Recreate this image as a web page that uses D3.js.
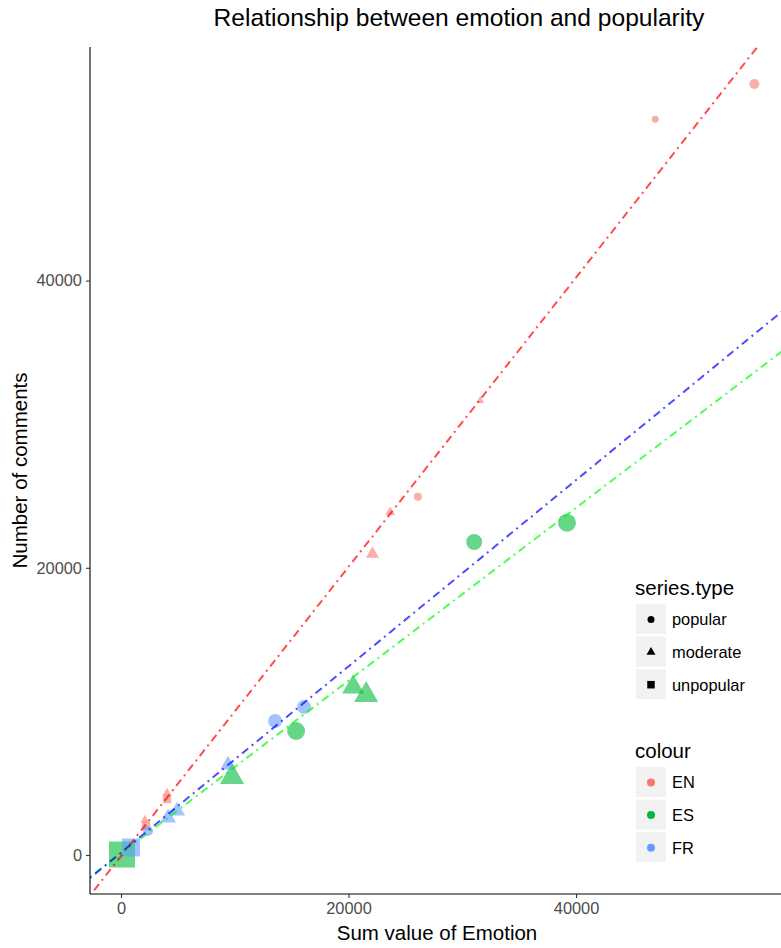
<!DOCTYPE html>
<html>
<head>
<meta charset="utf-8">
<script src="https://cdn.jsdelivr.net/npm/d3@7"></script>
<style>
  html, body { margin: 0; padding: 0; background: #fff; }
  svg { display: block; font-family: "Liberation Sans", Arial, Helvetica, sans-serif; }
</style>
</head>
<body>
<svg id="chart" width="781" height="948"></svg>
<script>
// Languages (colour) and popularity classes (shape)
const languages = ["EN", "ES", "FR"];
const seriesTypes = ["popular", "moderate", "unpopular"];

// EN observations
const emotionEN  = [55673, 46966, 26095, 31574, 23659, 22102, 4046, 2111, 4046, 2199];
const commentsEN = [53691, 51233, 24951, 31637, 23865, 20961, 4318, 2437, 3900, 2020];
const typeEN     = ["popular", "popular", "popular", "moderate", "moderate", "moderate", "moderate", "moderate", "unpopular", "unpopular"];
const sizeEN     = [3.5, 2.2, 2.6, 2.6, 3.4, 4.7, 3.0, 3.0, 2.8, 2.8];

// ES observations
const emotionES  = [39200, 31046, 15391, 20405, 21548, 9763, 88];
const commentsES = [23140, 21797, 8635, 11699, 11142, 5432, 35];
const typeES     = ["popular", "popular", "popular", "moderate", "moderate", "moderate", "unpopular"];
const sizeES     = [6.7, 5.9, 6.7, 8.4, 9.2, 9.2, 10];

// FR observations
const emotionFR  = [16095, 13544, 2375, 9411, 4925, 4134, 880];
const commentsFR = [10306, 9331, 1671, 6267, 3064, 2577, 522];
const typeFR     = ["popular", "popular", "popular", "moderate", "moderate", "moderate", "unpopular"];
const sizeFR     = [5.1, 5.1, 3.5, 5.9, 5.9, 5.9, 6.7];

// Linear fits of comments on emotion, per language
const fitSlope     = [1.0073, 0.6018, 0.6486];
const fitIntercept = [-78, 108, 166];

// Axis ticks
const xTicks = [0, 20000, 40000];
const yTicks = [0, 20000, 40000];

const pointColours = { EN: "#F8766D", ES: "#00BA38", FR: "#619CFF" };
const lineColours  = { EN: "#FF0000", ES: "#00FF00", FR: "#0000FF" };

const svg = d3.select("#chart");
const panel = { left: 90, top: 47, right: 786, bottom: 894 };

const x = d3.scaleLinear().domain([-2726, 58454]).range([panel.left, panel.right]);
const y = d3.scaleLinear().domain([-2716, 56267]).range([panel.bottom, panel.top]);
const widthScale = d3.scaleLinear().domain([1, 10]).range([4, 26]);

const shapeOf = { popular: d3.symbolCircle, moderate: d3.symbolTriangle, unpopular: d3.symbolSquare };
function symbolArea(type, w) {
  if (type === "popular") return Math.PI * (w / 2) * (w / 2);
  if (type === "moderate") return Math.sqrt(3) / 4 * w * w;
  return w * w;
}

const points = [];
[[ "EN", emotionEN, commentsEN, typeEN, sizeEN ],
 [ "ES", emotionES, commentsES, typeES, sizeES ],
 [ "FR", emotionFR, commentsFR, typeFR, sizeFR ]].forEach(([lang, ex, cy, ty, sz]) => {
  ex.forEach((v, i) => points.push({ lang, emotion: v, comments: cy[i], type: ty[i], size: sz[i] }));
});

svg.append("defs").append("clipPath").attr("id", "panel-clip")
  .append("rect")
  .attr("x", panel.left).attr("y", panel.top)
  .attr("width", panel.right - panel.left).attr("height", panel.bottom - panel.top);

const plot = svg.append("g").attr("clip-path", "url(#panel-clip)");

// Points
plot.append("g").selectAll("path")
  .data(points)
  .join("path")
  .attr("transform", d => `translate(${x(d.emotion)},${y(d.comments)})`)
  .attr("d", d => d3.symbol().type(shapeOf[d.type]).size(symbolArea(d.type, widthScale(d.size)))())
  .attr("fill", d => pointColours[d.lang])
  .attr("fill-opacity", 0.6);

// Fit lines (dot-dash)
const xd = x.domain();
plot.append("g").selectAll("line")
  .data(languages.map((lang, i) => ({ lang, slope: fitSlope[i], intercept: fitIntercept[i] })))
  .join("line")
  .attr("x1", x(xd[0])).attr("x2", x(xd[1]))
  .attr("y1", d => y(d.intercept + d.slope * xd[0]))
  .attr("y2", d => y(d.intercept + d.slope * xd[1]))
  .attr("stroke", d => lineColours[d.lang])
  .attr("stroke-opacity", 0.7)
  .attr("stroke-width", 2)
  .attr("stroke-dasharray", "2,4.5,8,4.5");

// Axes
const xAxis = svg.append("g")
  .attr("transform", `translate(0,${panel.bottom})`)
  .call(d3.axisBottom(x).tickValues(xTicks).tickFormat(d3.format("d")).tickSizeInner(4).tickSizeOuter(0).tickPadding(4));
const yAxis = svg.append("g")
  .attr("transform", `translate(${panel.left},0)`)
  .call(d3.axisLeft(y).tickValues(yTicks).tickFormat(d3.format("d")).tickSizeInner(4).tickSizeOuter(0).tickPadding(4));

[xAxis, yAxis].forEach(g => {
  g.select(".domain").attr("stroke", "#000").attr("stroke-width", 1.1);
  g.selectAll(".tick line").attr("stroke", "#333").attr("stroke-width", 1.1);
  g.selectAll(".tick text").attr("fill", "#4D4D4D").attr("font-size", 16.4)
    .attr("font-family", "Liberation Sans, Arial, sans-serif");
});
xAxis.select(".domain").attr("d", `M${panel.left},0H781`);
yAxis.select(".domain").attr("d", `M0,${panel.top}V${panel.bottom}`);

// Titles
svg.append("text")
  .attr("x", 459).attr("y", 26)
  .attr("text-anchor", "middle").attr("font-size", 24.6).attr("fill", "#000")
  .text("Relationship between emotion and popularity");

svg.append("text")
  .attr("x", 437).attr("y", 940)
  .attr("text-anchor", "middle").attr("font-size", 20.5).attr("fill", "#000")
  .text("Sum value of Emotion");

svg.append("text")
  .attr("transform", `translate(27,${(panel.top + panel.bottom) / 2}) rotate(-90)`)
  .attr("text-anchor", "middle").attr("font-size", 20.5).attr("fill", "#000")
  .text("Number of comments");

// Legends
function legend(top, title, items, drawKey) {
  const g = svg.append("g").attr("transform", `translate(635,${top})`);
  g.append("text").attr("x", 0).attr("y", 0).attr("font-size", 20.5).attr("fill", "#000").text(title);
  items.forEach((item, i) => {
    const ky = 9 + i * 32.6;
    g.append("rect").attr("x", 1).attr("y", ky).attr("width", 30).attr("height", 30).attr("fill", "#F2F2F2");
    drawKey(g, item, 16, ky + 15.5);
    g.append("text").attr("x", 37).attr("y", ky + 15.5).attr("dy", "0.36em")
      .attr("font-size", 16.4).attr("fill", "#000").text(item);
  });
}

const keyWidths = { popular: 7, moderate: 9, unpopular: 7.5 };
legend(595, "series.type", seriesTypes, (g, t, cx, cy) => {
  g.append("path")
    .attr("transform", `translate(${cx},${cy})`)
    .attr("d", d3.symbol().type(shapeOf[t]).size(symbolArea(t, keyWidths[t]))())
    .attr("fill", "#000");
});

legend(758, "colour", languages, (g, lang, cx, cy) => {
  g.append("circle").attr("cx", cx).attr("cy", cy).attr("r", 4).attr("fill", pointColours[lang]);
});
</script>
</body>
</html>
